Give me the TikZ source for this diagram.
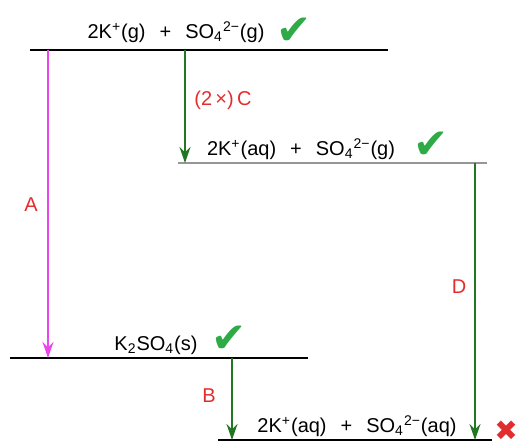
\documentclass[tikz,border=0pt]{standalone}
\usepackage{fontspec}
\setmainfont{Liberation Sans}
\newfontfamily\symfont{DejaVu Sans}
\usepackage{xcolor}
\usetikzlibrary{arrows.meta,positioning}
\definecolor{arrgreen}{RGB}{34,120,34}
\definecolor{tickgreen}{RGB}{46,170,70}
\definecolor{arrpink}{RGB}{235,70,235}
\definecolor{lblred}{RGB}{225,45,45}
\definecolor{lvlgray}{RGB}{150,150,150}
\newcommand{\ionsep}{\hspace{0.7em}+\hspace{0.7em}}
\newcommand{\sulf}{SO\textsubscript{4}\textsuperscript{2−}}
\tikzset{
  lvlline/.style  = {line width=0.9pt, black},
  greenarr/.style = {-{Stealth[length=8pt,width=5.5pt]}, line width=0.6pt, arrgreen},
  pinkarr/.style  = {-{Stealth[length=8pt,width=5.5pt]}, line width=0.6pt, arrpink},
  species/.style  = {font=\fontsize{10}{12}\selectfont, inner sep=1pt},
  steplbl/.style  = {font=\fontsize{10}{12}\selectfont, text=lblred, inner sep=1pt},
  tick/.style     = {font=\symfont\fontsize{21}{21}\selectfont, text=tickgreen, inner sep=0pt},
  wrong/.style    = {font=\symfont\fontsize{14}{14}\selectfont, text=lblred, inner sep=0pt}
}

\begin{document}
\begin{tikzpicture}[x=0.5pt, y=-0.5pt]
  \useasboundingbox (0,0) rectangle (526,448);
  % Levels
  \coordinate (l1a) at (30,50);   \coordinate (l1b) at (388,50);
  \coordinate (l2a) at (178,163); \coordinate (l2b) at (487,163);
  \coordinate (l3a) at (10,358);  \coordinate (l3b) at (308,358);
  \coordinate (l4a) at (218,440); \coordinate (l4b) at (492,440);
  \draw[lvlline] (l1a) -- (l1b);
  \draw[lvlline, lvlgray] (l2a) -- (l2b);
  \draw[lvlline] (l3a) -- (l3b);
  \draw[lvlline] (l4a) -- (l4b);
  % Species
  \node[species] (gas)   at (176,32)  {2K\textsuperscript{+}(g)\ionsep\sulf(g)};
  \node[species] (hyd)   at (301,149) {2K\textsuperscript{+}(aq)\ionsep\sulf(g)};
  \node[species] (solid) at (156,345) {K\textsubscript{2}SO\textsubscript{4}(s)};
  \node[species] (aq)    at (357,426) {2K\textsuperscript{+}(aq)\ionsep\sulf(aq)};
  \node[tick]  (t1) at (294,31)  {✔};
  \node[tick]  (t2) at (431,145) {✔};
  \node[tick]  (t3) at (229,339) {✔};
  \node[wrong] (x4) at (506,431) {✖};
  % Arrows
  \coordinate (aS) at (48,50);   \coordinate (aE) at (48,358);
  \coordinate (cS) at (185,50);  \coordinate (cE) at (185,163);
  \coordinate (dS) at (475,163); \coordinate (dE) at (475,440);
  \coordinate (bS) at (232,358); \coordinate (bE) at (232,440);
  \draw[pinkarr]  (aS) -- (aE);
  \draw[greenarr] (cS) -- (cE);
  \draw[greenarr] (dS) -- (dE);
  \draw[greenarr] (bS) -- (bE);
  % Step labels
  \node[steplbl] (la) at (31,205)  {A};
  \node[steplbl] (lc) at (223,100) {(2\,×)\,C};
  \node[steplbl] (ld) at (459,287) {D};
  \node[steplbl] (lb) at (209,396) {B};
\end{tikzpicture}
\end{document}
